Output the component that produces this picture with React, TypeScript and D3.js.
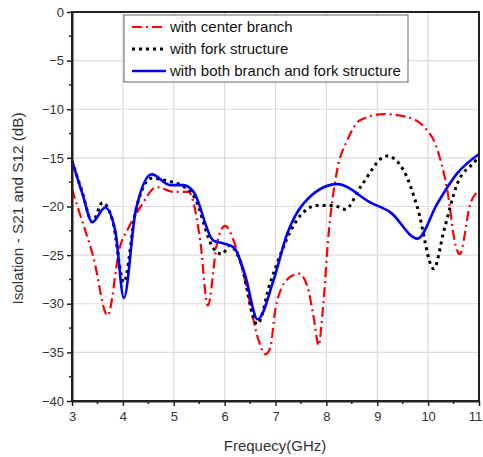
import React, { useEffect, useRef } from 'react';
import * as d3 from 'd3';

// Frequency (GHz) / isolation (dB)
const centerFreq = [3.0, 3.12, 3.42, 3.7, 3.94, 4.11, 4.34, 4.67, 5.0, 5.29, 5.52, 5.67, 5.85, 6.01, 6.21, 6.41, 6.67, 6.8, 6.9, 7.0, 7.23, 7.46, 7.62, 7.75, 7.85, 7.92, 8.05, 8.21, 8.41, 8.67, 9.13, 9.59, 9.92, 10.15, 10.38, 10.54, 10.62, 10.83, 11.0];
const centerDb = [-18.2, -20.2, -25.2, -31.2, -24.2, -22.2, -20.1, -18.0, -18.5, -18.5, -23.5, -30.2, -23.8, -22.0, -24.0, -27.8, -33.8, -35.2, -34.5, -30.5, -27.5, -26.9, -28.1, -31.4, -34.3, -31.2, -22.5, -16.3, -13.2, -11.1, -10.5, -10.8, -11.8, -13.7, -18.4, -24.0, -24.9, -19.7, -18.4];

const forkFreq = [3.0, 3.2, 3.4, 3.6, 3.8, 4.02, 4.25, 4.56, 4.9, 5.1, 5.4, 5.78, 5.95, 6.1, 6.3, 6.64, 6.9, 7.42, 7.82, 8.15, 8.37, 8.67, 9.19, 9.52, 9.79, 10.11, 10.31, 10.57, 10.93, 11.0];
const forkDb = [-15.3, -18.5, -21.6, -19.6, -21.5, -27.8, -20.5, -17.1, -17.4, -17.7, -19.0, -24.3, -24.9, -24.0, -25.5, -32.1, -27.8, -21.4, -19.9, -19.9, -20.3, -18.0, -14.8, -16.3, -20.1, -26.4, -22.5, -17.7, -15.3, -14.8];

const bothFreq = [3.0, 3.2, 3.4, 3.65, 3.85, 4.02, 4.25, 4.57, 4.93, 5.19, 5.39, 5.78, 5.98, 6.18, 6.4, 6.65, 6.96, 7.23, 7.55, 8.21, 8.87, 9.26, 9.79, 10.18, 10.57, 11.0];
const bothDb = [-15.3, -18.6, -21.6, -20.1, -22.5, -29.4, -20.5, -16.7, -17.8, -17.8, -18.5, -23.5, -23.8, -24.2, -27.0, -31.6, -27.6, -22.8, -19.7, -17.7, -19.6, -20.6, -23.3, -19.7, -16.6, -14.6];

const seriesNames = ['with center branch', 'with fork structure', 'with both branch and fork structure'];
const xTicks = [3, 4, 5, 6, 7, 8, 9, 10, 11];
const yTicks = [0, -5, -10, -15, -20, -25, -30, -35, -40];

const W = 483;
const H = 457;
const FONT = 'Liberation Sans, Arial, sans-serif';

export default function App() {
  const svgRef = useRef<SVGSVGElement>(null);

  useEffect(() => {
    if (!svgRef.current) return;
    const root = d3.select(svgRef.current);
    root.selectAll('*').remove();

    const margin = { top: 12, right: 4, bottom: 56, left: 72 };
    const innerW = W - margin.left - margin.right;
    const innerH = H - margin.top - margin.bottom;

    const x = d3.scaleLinear().domain([3, 11]).range([0, innerW]);
    const y = d3.scaleLinear().domain([-40, 0]).range([innerH, 0]);

    const g = root.append('g').attr('transform', `translate(${margin.left},${margin.top})`);

    // grid
    g.append('g')
      .selectAll('line')
      .data(xTicks)
      .join('line')
      .attr('x1', d => x(d)).attr('x2', d => x(d))
      .attr('y1', 0).attr('y2', innerH)
      .attr('stroke', '#dcdcdc').attr('stroke-width', 1.2);
    g.append('g')
      .selectAll('line')
      .data(yTicks)
      .join('line')
      .attr('x1', 0).attr('x2', innerW)
      .attr('y1', d => y(d)).attr('y2', d => y(d))
      .attr('stroke', '#dcdcdc').attr('stroke-width', 1.2);

    const line = d3.line<[number, number]>()
      .x(d => x(d[0]))
      .y(d => y(d[1]))
      .curve(d3.curveMonotoneX);

    const center = centerFreq.map((f, i) => [f, centerDb[i]] as [number, number]);
    const fork = forkFreq.map((f, i) => [f, forkDb[i]] as [number, number]);
    const both = bothFreq.map((f, i) => [f, bothDb[i]] as [number, number]);

    const plot = g.append('g');
    plot.append('path').datum(center)
      .attr('fill', 'none').attr('stroke', '#ff0000').attr('stroke-width', 2.2)
      .attr('stroke-dasharray', '10,4,2,4').attr('d', line);
    plot.append('path').datum(fork)
      .attr('fill', 'none').attr('stroke', '#000').attr('stroke-width', 3)
      .attr('stroke-dasharray', '3,4').attr('d', line);
    plot.append('path').datum(both)
      .attr('fill', 'none').attr('stroke', '#0000ff').attr('stroke-width', 2.6)
      .attr('d', line);

    // frame
    g.append('rect')
      .attr('width', innerW).attr('height', innerH)
      .attr('fill', 'none').attr('stroke', '#222').attr('stroke-width', 2);

    // axes
    const xAxis = g.append('g').attr('transform', `translate(0,${innerH})`)
      .call(d3.axisBottom(x).tickValues(xTicks).tickSize(5).tickSizeOuter(0).tickPadding(6).tickFormat(d3.format('d')));
    xAxis.append('g')
      .selectAll('line')
      .data(d3.range(3.5, 11, 1))
      .join('line')
      .attr('x1', d => x(d)).attr('x2', d => x(d))
      .attr('y1', 0).attr('y2', 3)
      .attr('stroke', '#222').attr('stroke-width', 1.5);

    const yAxis = g.append('g')
      .call(d3.axisLeft(y).tickValues(yTicks).tickSize(5).tickSizeOuter(0).tickPadding(3).tickFormat(d3.format('d')));
    yAxis.append('g')
      .selectAll('line')
      .data(d3.range(-37.5, 0, 5))
      .join('line')
      .attr('x1', 0).attr('x2', -3)
      .attr('y1', d => y(d)).attr('y2', d => y(d))
      .attr('stroke', '#222').attr('stroke-width', 1.5);

    [xAxis, yAxis].forEach(a => {
      a.select('.domain').attr('stroke', '#222').attr('stroke-width', 2);
      a.selectAll('.tick line').attr('stroke', '#222').attr('stroke-width', 1.5);
      a.selectAll('.tick text')
        .attr('font-family', FONT)
        .attr('font-size', 13)
        .attr('fill', '#333');
    });
    // last x label sits at the window edge; nudge it in
    xAxis.selectAll<SVGTextElement, number>('.tick text')
      .filter(d => d === 11)
      .attr('dx', -4);

    // axis titles
    root.append('text')
      .attr('x', 275)
      .attr('y', 451)
      .attr('text-anchor', 'middle')
      .attr('font-family', FONT)
      .attr('font-size', 15)
      .attr('fill', '#333')
      .text('Frequecy(GHz)');
    root.append('text')
      .attr('transform', `translate(23,${margin.top + innerH / 2 + 2}) rotate(-90)`)
      .attr('text-anchor', 'middle')
      .attr('font-family', FONT)
      .attr('font-size', 15.3)
      .attr('fill', '#333')
      .text('Isolation - S21 and S12 (dB)');

    // legend
    const lg = root.append('g').attr('transform', 'translate(124,15)');
    lg.append('rect')
      .attr('width', 284).attr('height', 67)
      .attr('fill', '#fff').attr('stroke', '#666').attr('stroke-width', 1);
    const styles = [
      { stroke: '#ff0000', width: 2.2, dash: '10,4,2,4' },
      { stroke: '#000', width: 3, dash: '3,4' },
      { stroke: '#0000ff', width: 2.6, dash: null as string | null },
    ];
    seriesNames.forEach((name, i) => {
      const yy = 12 + i * 22;
      lg.append('line')
        .attr('x1', 8).attr('x2', 42).attr('y1', yy).attr('y2', yy)
        .attr('stroke', styles[i].stroke).attr('stroke-width', styles[i].width)
        .attr('stroke-dasharray', styles[i].dash);
      lg.append('text')
        .attr('x', 46).attr('y', yy + 5)
        .attr('font-family', FONT)
        .attr('font-size', 15)
        .attr('fill', '#111')
        .text(name);
    });
  }, []);

  return (
    <svg
      ref={svgRef}
      width={W}
      height={H}
      style={{ position: 'absolute', left: 0, top: 0, background: '#fff' }}
    />
  );
}
